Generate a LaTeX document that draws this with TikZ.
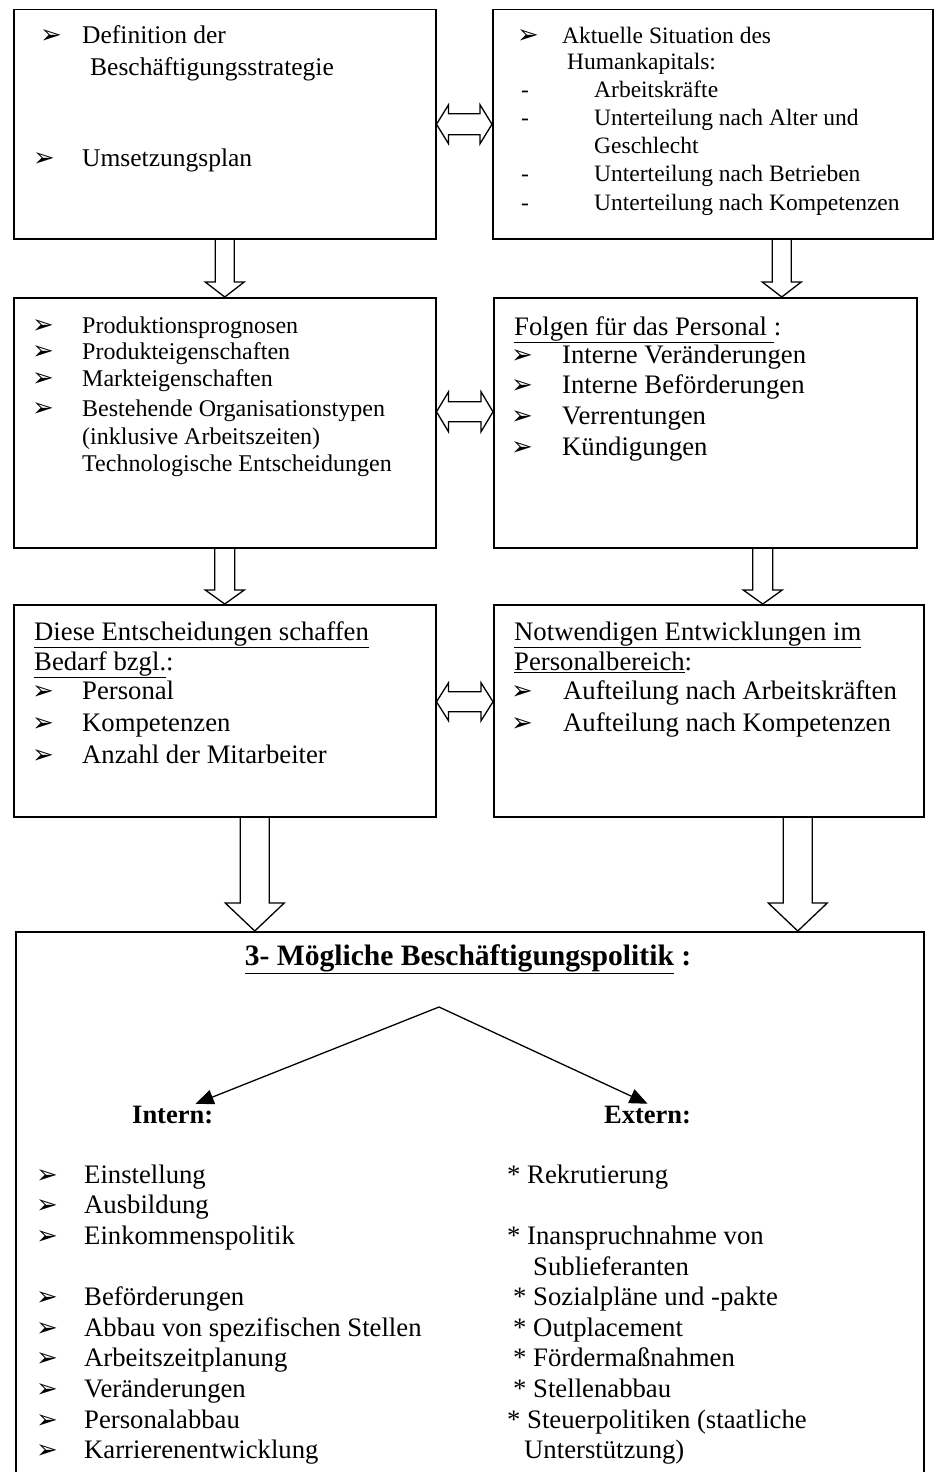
\documentclass[tikz,border=0pt]{standalone}
\usepackage{fontspec}
\setmainfont{Liberation Serif}
\newfontfamily\symfont{DejaVu Sans}
\usetikzlibrary{arrows.meta,calc}

% hollow block arrows: #1 start, #2 tip, #3 half shaft, #4 half head, #5 head length
\newcommand{\hollowdown}[5]{%
  \draw[blockarrow] ($#1+(-#3,0)$) -- ($#2+(-#3,-#5)$) -- ($#2+(-#4,-#5)$) -- #2
    -- ($#2+(#4,-#5)$) -- ($#2+(#3,-#5)$) -- ($#1+(#3,0)$);}
\newcommand{\hollowboth}[5]{%
  \draw[blockarrow] #1 -- ($#1+(#5,-#4)$) -- ($#1+(#5,-#3)$) -- ($#2+(-#5,-#3)$) -- ($#2+(-#5,-#4)$) -- #2
    -- ($#2+(-#5,#4)$) -- ($#2+(-#5,#3)$) -- ($#1+(#5,#3)$) -- ($#1+(#5,#4)$) -- cycle;}

\begin{document}
\begin{tikzpicture}[x=1pt,y=-1pt,
  panel/.style={draw,line width=1.5pt,inner sep=0pt,anchor=north west},
  blockarrow/.style={draw,line width=1.3pt,line join=miter},
  txt/.style={anchor=mid west,inner sep=0pt,yshift=-6pt,font=\fontsize{26.7}{30}\selectfont},
  txtlg/.style={txt,font=\fontsize{25.5}{29}\selectfont},
  txtmd/.style={txt,font=\fontsize{24}{28}\selectfont},
  txtsm/.style={txt,font=\fontsize{23.5}{27}\selectfont},
  bulletnode/.style={inner sep=0pt,anchor=mid,yshift=-6pt,font=\symfont\fontsize{26}{26}\selectfont},
  tip/.style={-{Triangle[length=18pt,width=15pt]},line width=1.3pt}]
\useasboundingbox (0,0) rectangle (935,1472);

%Boxes
\node[panel,minimum width=422pt,minimum height=229pt] (b1) at (13,9) {};
\node[panel,minimum width=440pt,minimum height=229pt] (b2) at (492,9) {};
\node[panel,minimum width=422pt,minimum height=250pt] (b3) at (13,297) {};
\node[panel,minimum width=423pt,minimum height=250pt] (b4) at (493,297) {};
\node[panel,minimum width=422pt,minimum height=212pt] (b5) at (13,604) {};
\node[panel,minimum width=430pt,minimum height=212pt] (b6) at (493,604) {};
\node[panel,minimum width=908pt,minimum height=549pt] (b7) at (15,931) {};

%Block arrows
\hollowboth{(b1.east)}{(b1.east -| b2.west)}{10.5}{19.5}{12}
\coordinate (l34) at ([yshift=11pt]b3.east);
\hollowboth{(l34)}{(l34 -| b4.west)}{10}{20}{12}
\coordinate (l56) at ([yshift=9pt]b5.east);
\hollowboth{(l56)}{(l56 -| b6.west)}{10}{19}{12}
\hollowdown{(b1.south)}{(b3.north)}{9.5}{19.5}{15}
\coordinate (p24) at ([xshift=69pt]b2.south);
\hollowdown{(p24)}{(p24 |- b4.north)}{9.5}{19.5}{15}
\hollowdown{(b3.south)}{(b5.north)}{10}{19.5}{14}
\coordinate (p46) at ([xshift=57.5pt]b4.south);
\hollowdown{(p46)}{(p46 |- b6.north)}{10}{19.5}{14}
\coordinate (p57) at ([xshift=30pt]b5.south);
\hollowdown{(p57)}{(p57 |- b7.north)}{14.5}{29.5}{28}
\coordinate (p67) at ([xshift=89pt]b6.south);
\hollowdown{(p67)}{(p67 |- b7.north)}{14.5}{29.5}{28}

% Text Node
\node[bulletnode] (u11) at (51,35) {➢};
\node[txtlg] (t11) at (82,35) {Definition der};
\node[txtlg] (t12) at (90,67) {Beschäftigungsstrategie};
\node[bulletnode] (u12) at (44,158) {➢};
\node[txtlg] (t13) at (82,158) {Umsetzungsplan};

% Text Node
\node[bulletnode] (u21) at (528,35) {➢};
\node[txtsm] (t21) at (562,35) {Aktuelle Situation des};
\node[txtsm] (t22) at (567,61) {Humankapitals:};
\foreach \y/\t [count=\i] in {89/Arbeitskräfte, 117/Unterteilung nach Alter und, 173/Unterteilung nach Betrieben, 202/Unterteilung nach Kompetenzen}
  {\node[txtsm] (d2\i) at (521,\y) {-};
   \node[txtsm] (s2\i) at (594,\y) {\t};}
\node[txtsm] (t23) at (594,145) {Geschlecht};

% Text Node
\foreach \y/\t [count=\i] in {325/Produktionsprognosen, 351/Produkteigenschaften, 378/Markteigenschaften, 408/Bestehende Organisationstypen}
  {\node[bulletnode] (u3\i) at (43,\y) {➢};
   \node[txtmd] (t3\i) at (82,\y) {\t};}
\node[txtmd] (t35) at (82,436) {(inklusive Arbeitszeiten)};
\node[txtmd] (t36) at (82,463) {Technologische Entscheidungen};

% Text Node
\node[txt] (h4) at (514,327) {\underline{Folgen für das Personal\ }:};
\foreach \t [count=\i] in {Interne Veränderungen, Interne Beförderungen, Verrentungen, Kündigungen}
  {\node[bulletnode] (u4\i) at (522,{355+30.7*(\i-1)}) {➢};
   \node[txt] (t4\i) at (562,{355+30.7*(\i-1)}) {\t};}

% Text Node
\node[txt] (h5) at (34,632) {\underline{Diese Entscheidungen schaffen}};
\node[txt] (h5b) at (34,662) {\underline{Bedarf bzgl.}:};
\foreach \t [count=\i] in {Personal, Kompetenzen, Anzahl der Mitarbeiter}
  {\node[bulletnode] (u5\i) at (43,{691+32*(\i-1)}) {➢};
   \node[txt] (t5\i) at (82,{691+32*(\i-1)}) {\t};}

% Text Node
\node[txt] (h6) at (514,632) {\underline{Notwendigen Entwicklungen im}};
\node[txt] (h6b) at (514,662) {\underline{Personalbereich}:};
\foreach \t [count=\i] in {Aufteilung nach Arbeitskräften, Aufteilung nach Kompetenzen}
  {\node[bulletnode] (u6\i) at (522,{691+32*(\i-1)}) {➢};
   \node[txt] (t6\i) at (563,{691+32*(\i-1)}) {\t};}

% Text Node
\node[anchor=mid,inner sep=0pt,yshift=-6pt,font=\fontsize{29.6}{33}\selectfont\bfseries] (title) at (468,957) {\underline{3- Mögliche Beschäftigungspolitik} :};
\node[txt,font=\fontsize{26.5}{30}\selectfont\bfseries] (intern) at (132,1115) {Intern:};
\node[txt,font=\fontsize{26.5}{30}\selectfont\bfseries] (extern) at (604,1115) {Extern:};
\coordinate (apex) at (439,1007);
\draw[tip] (apex) -- ([xshift=23pt,yshift=2pt]intern.north);
\draw[tip] (apex) -- ([yshift=2pt]extern.north);

\foreach \i/\t in {0/Einstellung, 1/Ausbildung, 2/Einkommenspolitik, 4/Beförderungen, 5/Abbau von spezifischen Stellen, 6/Arbeitszeitplanung, 7/Veränderungen, 8/Personalabbau, 9/Karrierenentwicklung}
  {\node[bulletnode] (u7\i) at (47,{1175+30.6*\i}) {➢};
   \node[txt] (in\i) at (84,{1175+30.6*\i}) {\t};}
\foreach \i/\x/\t in {0/507/* Rekrutierung, 2/507/* Inanspruchnahme von, 3/533/Sublieferanten, 4/513/* Sozialpläne und -pakte, 5/513/* Outplacement, 6/513/* Fördermaßnahmen, 7/513/* Stellenabbau, 8/507/* Steuerpolitiken (staatliche, 9/524/Unterstützung)}
  {\node[txt] (ex\i) at (\x,{1175+30.6*\i}) {\t};}

\end{tikzpicture}
\end{document}
